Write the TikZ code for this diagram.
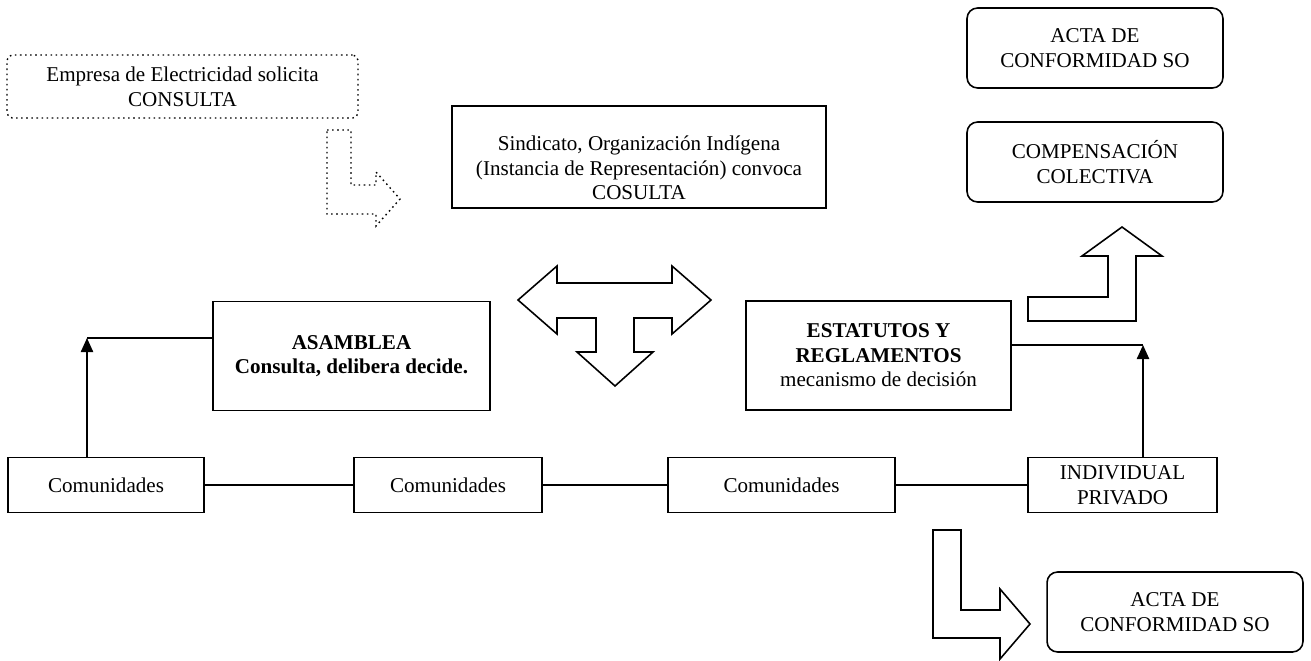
\documentclass[tikz,border=0pt]{standalone}
\usepackage{fontspec}
\setmainfont{Liberation Serif}
\usetikzlibrary{arrows.meta}

\begin{document}
\begin{tikzpicture}[x=0.02cm, y=-0.02cm,
        box/.style={draw, line width=0.9pt, align=center, inner sep=2pt, font=\fontsize{12}{14}\selectfont},
        rbox/.style={box, rounded corners=6pt},
        blockarrow/.style={draw, line width=0.9pt, line join=miter},
        tip/.style={-{Triangle[length=8pt, width=7pt]}, line width=0.9pt}]
                \useasboundingbox (0, 0) rectangle (1311, 660);
                % top row
                \node[rbox, dotted, line width=0.8pt, rounded corners=3pt, minimum width=7.02cm, minimum height=1.26cm] (empresa) at (182.5, 86.5) {Empresa de Electricidad solicita\\CONSULTA};
                \node[box, minimum width=7.48cm, minimum height=2.04cm] (sindicato) at (639, 157) {\rule{0pt}{21pt}Sindicato, Organización Indígena\\(Instancia de Representación) convoca\\COSULTA};
                \node[rbox, minimum width=5.12cm, minimum height=1.6cm] (actaA) at (1095, 48) {ACTA DE\\CONFORMIDAD SO};
                \node[rbox, minimum width=5.12cm, minimum height=1.6cm] (compensa) at (1095, 162) {COMPENSACIÓN\\COLECTIVA};
                % middle row
                \node[box, font=\fontsize{12}{14}\selectfont\bfseries, minimum width=5.54cm, minimum height=2.18cm] (asamblea) at (351.5, 356) {ASAMBLEA\\Consulta, delibera decide.};
                \node[box, minimum width=5.3cm, minimum height=2.18cm] (estatutos) at (878.5, 355.5) {\textbf{ESTATUTOS Y}\\\textbf{REGLAMENTOS}\\mecanismo de decisión};
                % bottom row
                \node[box, minimum width=3.92cm, minimum height=1.1cm] (com1) at (106, 485) {Comunidades};
                \node[box, minimum width=3.76cm, minimum height=1.1cm] (com2) at (448, 485) {Comunidades};
                \node[box, minimum width=4.54cm, minimum height=1.1cm] (com3) at (781.5, 485) {Comunidades};
                \node[box, minimum width=3.78cm, minimum height=1.1cm] (indiv) at (1122.5, 485) {INDIVIDUAL\\PRIVADO};
                \node[rbox, minimum width=5.12cm, minimum height=1.6cm] (actaB) at (1175, 612) {ACTA DE\\CONFORMIDAD SO};
                % connectors
                \coordinate (izq) at (87, 338);
                \coordinate (der) at (1143, 345);
                \draw[line width=0.9pt] (com1) -- (com2) -- (com3) -- (indiv);
                \draw[tip] (izq |- com1.north) -- (izq);
                \draw[line width=0.9pt] (izq) -- (izq -| asamblea.west);
                \draw[tip] (der |- indiv.north) -- (der);
                \draw[line width=0.9pt] (estatutos.east |- der) -- (der);
                % block arrows
                \draw[blockarrow, dotted, line width=0.8pt] (327, 130) -- (351, 130) -- (351, 185) -- (376, 185) -- (376, 172) -- (400, 199)
                    -- (376, 226) -- (376, 214) -- (327, 214) -- cycle;
                \draw[blockarrow] (518, 300) -- (557, 266) -- (557, 283) -- (672, 283) -- (672, 266) -- (711, 300) -- (672, 334)
                    -- (672, 318) -- (634, 318) -- (634, 352) -- (653, 352) -- (615, 386) -- (577, 352) -- (596, 352)
                    -- (596, 318) -- (557, 318) -- (557, 334) -- cycle;
                \draw[blockarrow] (1028, 297) -- (1108, 297) -- (1108, 256) -- (1082, 256) -- (1122, 227) -- (1162, 256)
                    -- (1136, 256) -- (1136, 321) -- (1028, 321) -- cycle;
                \draw[blockarrow] (933, 530) -- (961, 530) -- (961, 610) -- (1000, 610) -- (1000, 589) -- (1030, 624)
                    -- (1000, 659) -- (1000, 638) -- (933, 638) -- cycle;
            \end{tikzpicture}
\end{document}
